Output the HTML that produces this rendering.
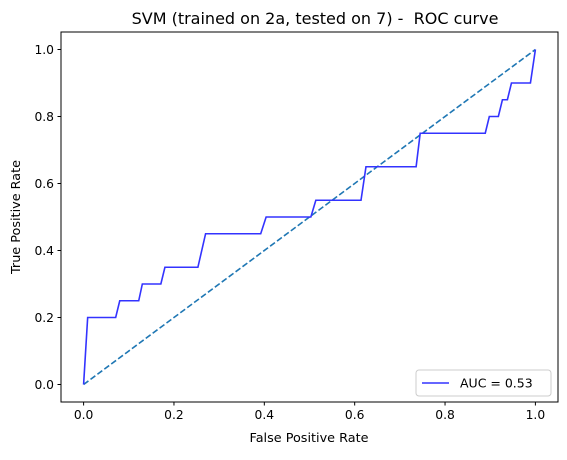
<!DOCTYPE html>
<html><head><meta charset="utf-8"><style>
body{margin:0;background:#fff;}
text{font-family:"DejaVu Sans","Liberation Sans",sans-serif;}
</style></head><body>
<svg id="chart" width="567" height="455" viewBox="0 0 567 455" xmlns="http://www.w3.org/2000/svg">
<rect width="567" height="455" fill="#fff"/>
<text x="315" y="24" font-size="16" text-anchor="middle" style="white-space:pre">SVM (trained on 2a, tested on 7) -  ROC curve</text>
<g id="ticks"></g>
<path id="diag" fill="none" stroke="#1f77b4" stroke-width="1.6" stroke-dasharray="6,2.6"/>
<path id="roc" fill="none" stroke="#3333ff" stroke-width="1.6"/>
<rect x="61" y="32" width="497" height="370" fill="none" stroke="#000" stroke-width="1"/>
<text x="309" y="442" font-size="12.8" text-anchor="middle">False Positive Rate</text>
<text transform="translate(20,217) rotate(-90)" font-size="12.8" text-anchor="middle">True Positive Rate</text>
<g>
<rect x="416" y="370" width="135" height="26" rx="3" fill="#fff" stroke="#ccc"/>
<line x1="422" y1="383" x2="449" y2="383" stroke="#3333ff" stroke-width="1.6"/>
<text x="460" y="387.5" font-size="12.5">AUC = 0.53</text>
</g>
</svg>
<script>
const fpr=[0,0.009,0.071,0.08,0.122,0.13,0.171,0.18,0.253,0.27,0.392,0.404,0.503,0.514,0.614,0.625,0.736,0.745,0.889,0.898,0.918,0.927,0.938,0.947,0.989,1];
const tpr=[0,0.2,0.2,0.25,0.25,0.3,0.3,0.35,0.35,0.45,0.45,0.5,0.5,0.55,0.55,0.65,0.65,0.75,0.75,0.8,0.8,0.85,0.85,0.9,0.9,1];
const ticks=[0,0.2,0.4,0.6,0.8,1.0];
const tickLabels=["0.0","0.2","0.4","0.6","0.8","1.0"];
const sx=v=>83.6+v*451.8, sy=v=>384.5-v*335;
const NS="http://www.w3.org/2000/svg";
const g=document.getElementById('ticks');
ticks.forEach((t,i)=>{
  const lx=document.createElementNS(NS,'line');
  lx.setAttribute('x1',sx(t));lx.setAttribute('x2',sx(t));lx.setAttribute('y1',402);lx.setAttribute('y2',405.5);lx.setAttribute('stroke','#000');
  
  
  g.appendChild(lx);
  const tx=document.createElementNS(NS,'text');
  tx.setAttribute('x',sx(t));tx.setAttribute('y',419);tx.setAttribute('font-size','12.3');tx.setAttribute('text-anchor','middle');tx.textContent=tickLabels[i];
  
  
  g.appendChild(tx);
  const ly=document.createElementNS(NS,'line');
  ly.setAttribute('x1',57.5);ly.setAttribute('x2',61);ly.setAttribute('y1',sy(t));ly.setAttribute('y2',sy(t));ly.setAttribute('stroke','#000');
  
  
  g.appendChild(ly);
  const ty=document.createElementNS(NS,'text');
  ty.setAttribute('x',54);ty.setAttribute('y',sy(t)+4.3);ty.setAttribute('font-size','12.3');ty.setAttribute('text-anchor','end');ty.textContent=tickLabels[i];
  
  
  g.appendChild(ty);
});
document.getElementById('diag').setAttribute('d',`M${sx(0)},${sy(0)}L${sx(1)},${sy(1)}`);
document.getElementById('roc').setAttribute('d',fpr.map((x,i)=>(i?'L':'M')+sx(x)+','+sy(tpr[i])).join(''));
</script>
</body></html>
